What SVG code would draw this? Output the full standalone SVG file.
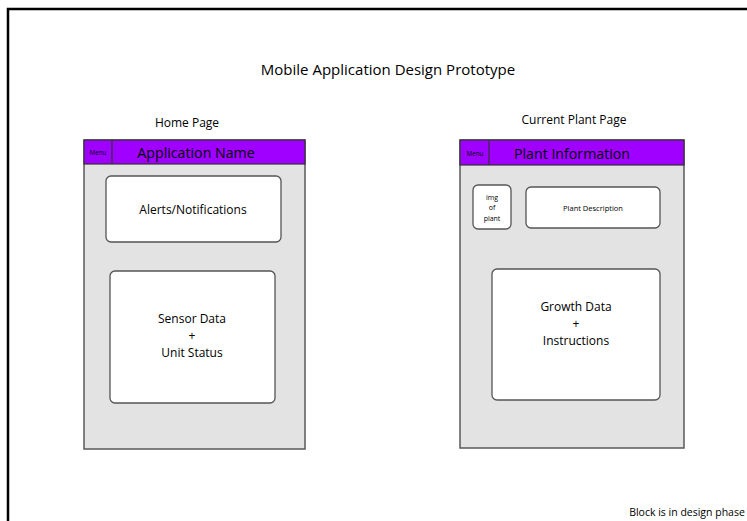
<svg xmlns="http://www.w3.org/2000/svg" width="747" height="521" viewBox="0 0 747 521">
<style>
text{font-family:"Open Sans","Liberation Sans",sans-serif;fill:#000;text-anchor:middle;dominant-baseline:central}
.phone{fill:#e3e3e3;stroke:#5a5a5a;stroke-width:1.5}
.bar{fill:#9f00ff;stroke:#333;stroke-width:1.2}
.box{fill:#fff;stroke:#555;stroke-width:1.3}
.t{font-size:12px}
.h{font-size:14.2px}
.s{font-size:6.3px}
</style>
<rect x="0" y="0" width="747" height="521" fill="#fff"/>
<rect x="8" y="9" width="760" height="540" fill="none" stroke="#000" stroke-width="2.5"/>
<text x="388" y="69" font-size="15">Mobile Application Design Prototype</text>
<text x="187" y="122" class="t">Home Page</text>
<text x="574" y="119" class="t">Current Plant Page</text>
<g id="home-page">
<rect class="phone" x="84" y="140" width="221" height="309"/>
<rect class="bar" x="84" y="140" width="221" height="24"/>
<line x1="112" y1="140" x2="112" y2="164" stroke="#333" stroke-width="1.2"/>
<text x="98" y="152" class="s">Menu</text>
<text x="196" y="152" class="h">Application Name</text>
</g>
<g id="alerts">
<rect class="box" x="106" y="176" width="175" height="66" rx="5"/>
<text x="193" y="209" class="t">Alerts/Notifications</text>
</g>
<g id="sensor-data">
<rect class="box" x="110" y="271" width="165" height="132" rx="5"/>
<text x="192" y="318" class="t">Sensor Data</text>
<text x="192" y="335" class="t">+</text>
<text x="192" y="352" class="t">Unit Status</text>
</g>
<g id="plant-page">
<rect class="phone" x="460" y="140" width="224" height="308"/>
<rect class="bar" x="460" y="140" width="224" height="25"/>
<line x1="489" y1="140" x2="489" y2="165" stroke="#333" stroke-width="1.2"/>
<text x="475" y="153" class="s">Menu</text>
<text x="572" y="153" class="h">Plant Information</text>
</g>
<g id="img-of-plant">
<rect class="box" x="473" y="185" width="38" height="44" rx="5"/>
<text x="492" y="197" font-size="7">img</text>
<text x="492" y="207" font-size="7">of</text>
<text x="492" y="218" font-size="7">plant</text>
</g>
<g id="plant-description">
<rect class="box" x="526" y="187" width="134" height="41" rx="5"/>
<text x="593" y="208" font-size="7.5">Plant Description</text>
</g>
<g id="growth-data">
<rect class="box" x="492" y="269" width="168" height="131" rx="5"/>
<text x="576" y="306" class="t">Growth Data</text>
<text x="576" y="323" class="t">+</text>
<text x="576" y="340" class="t">Instructions</text>
</g>
<text x="687" y="512" font-size="10.5">Block is in design phase</text>
<g id="connectors"></g>
</svg>
